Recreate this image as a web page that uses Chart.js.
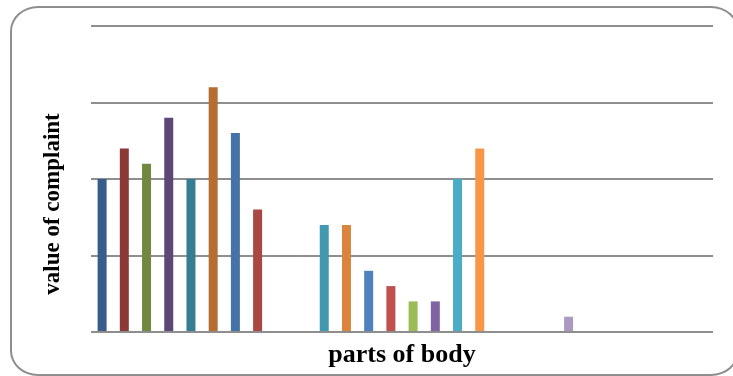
<!DOCTYPE html>
<html>
<head>
<meta charset="utf-8">
<script src="https://cdn.jsdelivr.net/npm/chart.js@4/dist/chart.umd.min.js"></script>
<style>
  html, body { margin: 0; padding: 0; background: #ffffff; overflow: hidden; }
  #wrap { position: relative; width: 733px; height: 376px; }
  #frame {
    position: absolute; left: 10px; top: 6px; width: 729px; height: 370px;
    border: 2px solid #8e8e8e; border-radius: 28px / 25px; box-sizing: border-box;
    pointer-events: none;
  }
  canvas { position: absolute; left: 0; top: 0; }
</style>
</head>
<body>
<div id="wrap">
  <canvas id="c" width="733" height="376"></canvas>
  <div id="frame"></div>
</div>
<script>
// Categories (parts of body; names not shown in the original)
const categories = ["1","2","3","4","5","6","7","8","9","10","11","12","13","14",
                    "15","16","17","18","19","20","21","22","23","24","25","26","27","28"];
// Value of complaint per part of body
const complaintValues = [20, 24, 22, 28, 20, 32, 26, 16, 0, 0, 14, 14, 8, 6,
                         4, 4, 20, 24, 0, 0, 0, 2, 0, 0, 0, 0, 0, 0];
// Bar colours
const barColors = ["#385d8a","#8c3836","#71893f","#5c4776","#357e92","#b66d31","#4572a7","#aa4643",
                   "#89a54e","#80699b","#4198af","#db843d","#4f81bd","#c0504d","#9bbb59","#8064a2",
                   "#4bacc6","#f79646","#2c4d75","#772c2a","#5f7530","#aa99c0","#276a7c","#b65708",
                   "#729aca","#cd7371","#afc97a","#a08bbd"];
const yMin = 0, yMax = 40, yStep = 10;
const xTitle = "parts of body";
const yTitle = "value of complaint";
const serif = '"Liberation Serif", "Times New Roman", serif';

// Y-axis title drawn slightly below the axis centre, as in the original
const yTitlePlugin = {
  id: 'yTitlePlugin',
  afterDraw(chart) {
    const ctx = chart.ctx;
    const area = chart.chartArea;
    ctx.save();
    ctx.translate(53, (area.top + area.bottom) / 2 + 25);
    ctx.rotate(-Math.PI / 2);
    ctx.font = 'bold 23px ' + serif;
    ctx.fillStyle = '#000000';
    ctx.textAlign = 'center';
    ctx.textBaseline = 'middle';
    ctx.fillText(yTitle, 0, 0);
    ctx.restore();
  }
};

new Chart(document.getElementById('c'), {
  type: 'bar',
  data: {
    labels: categories,
    datasets: [{
      data: complaintValues,
      backgroundColor: barColors,
      borderWidth: 0,
      barPercentage: 0.405,
      categoryPercentage: 1.0
    }]
  },
  plugins: [yTitlePlugin],
  options: {
    responsive: false,
    animation: false,
    layout: { padding: { top: 26, right: 20, left: 0, bottom: 0 } },
    plugins: { legend: { display: false }, tooltip: { enabled: false } },
    scales: {
      x: {
        grid: { display: false, drawTicks: false },
        border: { display: false },
        ticks: { display: false },
        title: {
          display: true, text: xTitle, color: '#000000',
          font: { family: serif, size: 26, weight: 'bold' },
          padding: { top: 7, bottom: 5 }
        },
        afterFit: (s) => { s.height = 44; }
      },
      y: {
        min: yMin, max: yMax,
        ticks: { display: false, stepSize: yStep },
        grid: { color: '#8e8e8e', lineWidth: 2, drawTicks: false },
        border: { display: false },
        title: { display: false, text: yTitle },
        afterFit: (s) => { s.width = 91; }
      }
    }
  }
});
</script>
</body>
</html>
